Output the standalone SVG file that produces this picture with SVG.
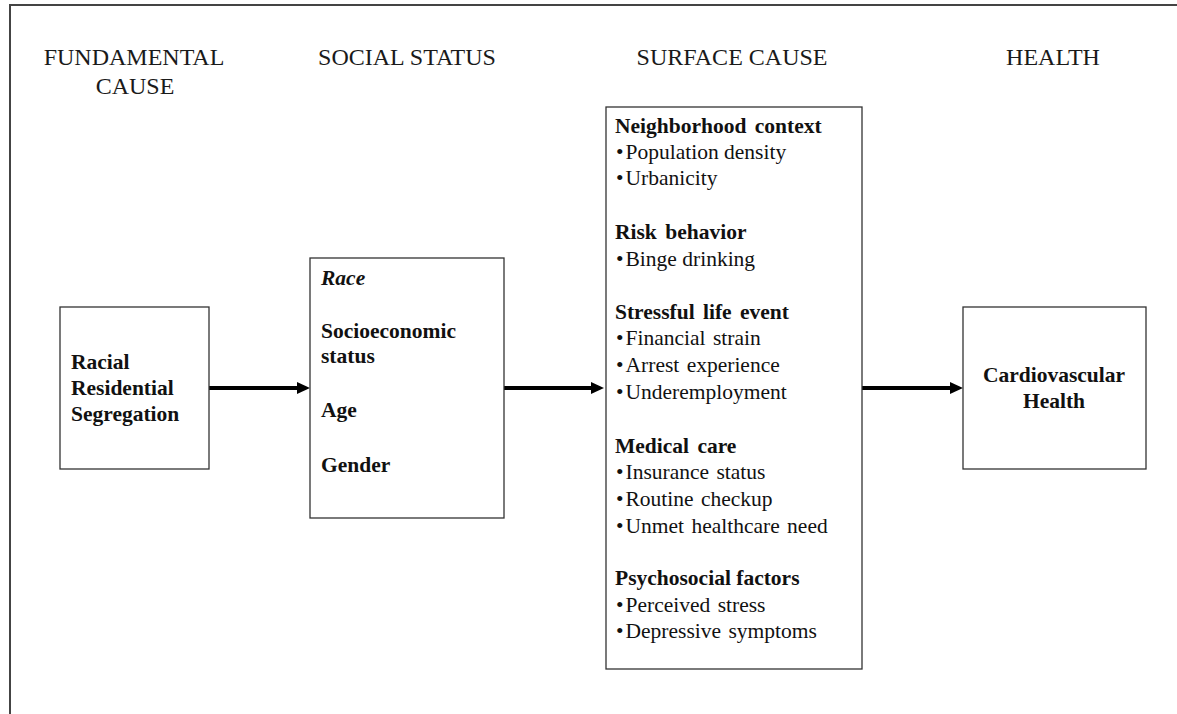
<svg xmlns="http://www.w3.org/2000/svg" width="1177" height="714" viewBox="0 0 1177 714">
  <style>
    .frame { stroke: #444; stroke-width: 2; fill: none; }
    .box { fill: #fff; stroke: #333; stroke-width: 1.3; }
    .head { font-family: "Liberation Serif", "Times New Roman", serif; font-size: 24px; fill: #1a1a1a; text-anchor: middle; }
    .b { font-family: "Liberation Serif", "Times New Roman", serif; font-size: 21.5px; font-weight: bold; fill: #111; }
    .r { font-family: "Liberation Serif", "Times New Roman", serif; font-size: 21.5px; fill: #111; }
    .bi { font-style: italic; }
    .mid { text-anchor: middle; }
    .conn { stroke: #000; stroke-width: 4; fill: none; marker-end: url(#arrow); }
  </style>
  <defs>
    <marker id="arrow" markerUnits="userSpaceOnUse" viewBox="0 0 13 12" refX="0" refY="6" markerWidth="13" markerHeight="12" orient="auto">
      <path d="M0,0 L13,6 L0,12 Z" fill="#000"/>
    </marker>
  </defs>

  <rect width="1177" height="714" fill="#fff"/>

  <!-- page frame (top and left rules) -->
  <path class="frame" d="M10,714 L10,5 L1177,5"/>

  <!-- column headings -->
  <g id="headings">
    <text class="head" x="134" y="65">FUNDAMENTAL</text>
    <text class="head" x="135" y="94">CAUSE</text>
    <text class="head" x="407" y="65">SOCIAL STATUS</text>
    <text class="head" x="732" y="65">SURFACE CAUSE</text>
    <text class="head" x="1053" y="65">HEALTH</text>
  </g>

  <!-- connectors -->
  <g id="connectors">
    <line class="conn" x1="209" y1="388" x2="297" y2="388"/>
    <line class="conn" x1="504" y1="388" x2="591" y2="388"/>
    <line class="conn" x1="862" y1="388" x2="950" y2="388"/>
  </g>

  <g id="node-segregation">
    <rect class="box" x="60" y="307" width="149" height="162"/>
    <text class="b" x="71" y="369">Racial</text>
    <text class="b" x="71" y="395">Residential</text>
    <text class="b" x="71" y="421">Segregation</text>
  </g>

  <g id="node-social-status">
    <rect class="box" x="310" y="258" width="194" height="260"/>
    <text class="b bi" x="321" y="285">Race</text>
    <text class="b" x="321" y="338">Socioeconomic</text>
    <text class="b" x="321" y="363">status</text>
    <text class="b" x="321" y="417">Age</text>
    <text class="b" x="321" y="472">Gender</text>
  </g>

  <g id="node-surface-cause">
    <rect class="box" x="606" y="107" width="256" height="562"/>
    <text class="b" x="615" y="133" word-spacing="3">Neighborhood context</text>
    <text class="r" x="616" y="159">•<tspan dx="2">Population density</tspan></text>
    <text class="r" x="616" y="185">•<tspan dx="2">Urbanicity</tspan></text>
    <text class="b" x="615" y="239" word-spacing="3">Risk behavior</text>
    <text class="r" x="616" y="266">•<tspan dx="2">Binge drinking</tspan></text>
    <text class="b" x="615" y="319" word-spacing="3">Stressful life event</text>
    <text class="r" x="616" y="345" word-spacing="2">•<tspan dx="2">Financial strain</tspan></text>
    <text class="r" x="616" y="372" word-spacing="2">•<tspan dx="2">Arrest experience</tspan></text>
    <text class="r" x="616" y="399">•<tspan dx="2">Underemployment</tspan></text>
    <text class="b" x="615" y="453" word-spacing="3">Medical care</text>
    <text class="r" x="616" y="479" word-spacing="2">•<tspan dx="2">Insurance status</tspan></text>
    <text class="r" x="616" y="506" word-spacing="2">•<tspan dx="2">Routine checkup</tspan></text>
    <text class="r" x="616" y="533" word-spacing="2">•<tspan dx="2">Unmet healthcare need</tspan></text>
    <text class="b" x="615" y="585">Psychosocial factors</text>
    <text class="r" x="616" y="612" word-spacing="2">•<tspan dx="2">Perceived stress</tspan></text>
    <text class="r" x="616" y="638" word-spacing="2">•<tspan dx="2">Depressive symptoms</tspan></text>
  </g>

  <g id="node-health">
    <rect class="box" x="963" y="307" width="183" height="162"/>
    <text class="b mid" x="1054" y="382">Cardiovascular</text>
    <text class="b mid" x="1054" y="408">Health</text>
  </g>
</svg>
